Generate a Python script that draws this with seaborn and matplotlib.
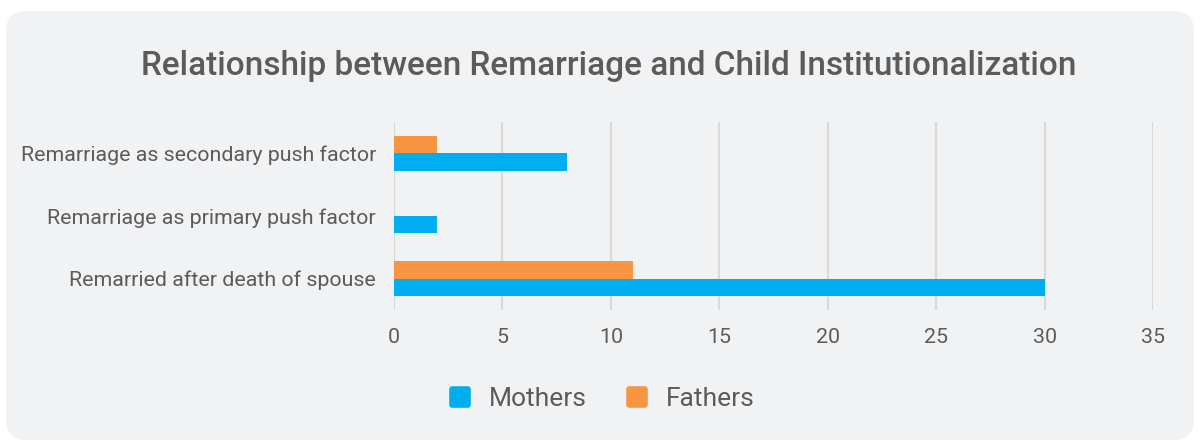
import pandas as pd
import matplotlib.pyplot as plt
import seaborn as sns
from matplotlib.patches import FancyBboxPatch
from matplotlib.lines import Line2D
from matplotlib.markers import MarkerStyle

# data
categories = ["Remarriage as secondary push factor",
              "Remarriage as primary push factor",
              "Remarried after death of spouse"]
mothers = [8, 2, 30]
fathers = [2, 0, 11]

df = pd.DataFrame({
    "category": categories * 2,
    "group": ["Mothers"] * 3 + ["Fathers"] * 3,
    "value": mothers + fathers,
})

BG = "#f1f2f4"
TXT = "#5b5b5b"
BLUE = "#00aeef"
ORANGE = "#f79540"

sns.set_theme(style="white")
plt.rcParams["font.family"] = ["Roboto", "DejaVu Sans"]

fig = plt.figure(figsize=(12, 4.43), dpi=100)
fig.patch.set_facecolor("white")

# rounded card behind everything
card = FancyBboxPatch((6 / 1200, 3 / 443), 1188 / 1200, 429 / 443,
                      boxstyle="round,pad=0,rounding_size=0.017",
                      transform=fig.transFigure, facecolor=BG,
                      edgecolor="none", zorder=-1, mutation_aspect=1200 / 443)
fig.patches.append(card)

ax = fig.add_axes([394 / 1200, 1 - 310 / 443, 759 / 1200, 188 / 443])
ax.set_facecolor(BG)

sns.barplot(data=df, y="category", x="value", hue="group",
            hue_order=["Fathers", "Mothers"],
            palette={"Mothers": BLUE, "Fathers": ORANGE},
            order=categories, width=0.55, orient="h", ax=ax,
            saturation=1, linewidth=0, legend=False, zorder=3)

ax.set_xlim(0, 35)
ax.set_xticks(range(0, 36, 5))
ax.grid(axis="x", color="#dadada", linewidth=1.6, zorder=0)
ax.set_axisbelow(True)
for s in ax.spines.values():
    s.set_visible(False)
ax.tick_params(axis="both", length=0, labelsize=15.4, labelcolor=TXT)
ax.tick_params(axis="x", pad=13)
ax.tick_params(axis="y", pad=13)
ax.set_xlabel("")
ax.set_ylabel("")

fig.text(0.507, 1 - 66 / 443, "Relationship between Remarriage and Child Institutionalization",
         ha="center", va="center", fontsize=24, color=TXT, fontweight="medium",
         family=["Roboto", "DejaVu Sans"])

rounded_sq = MarkerStyle("s", joinstyle="round")
handles = [Line2D([], [], marker=rounded_sq, linestyle="none", markersize=12,
                  markeredgewidth=4, markerfacecolor=c, markeredgecolor=c, label=l)
           for c, l in [(BLUE, "Mothers"), (ORANGE, "Fathers")]]
leg = fig.legend(handles=handles, loc="center", bbox_to_anchor=(0.495, 1 - 399 / 443),
                 ncol=2, frameon=False, fontsize=19, handletextpad=0.1,
                 columnspacing=0.9)
for t in leg.get_texts():
    t.set_color(TXT)

fig.savefig("out.png", dpi=100, facecolor="white")
